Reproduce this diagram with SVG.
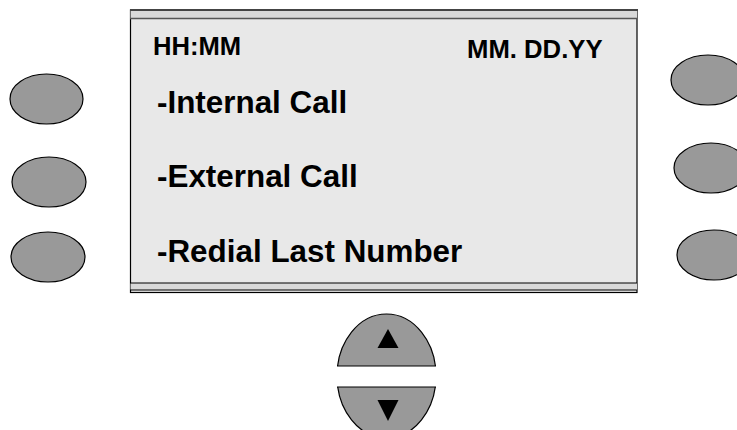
<svg xmlns="http://www.w3.org/2000/svg" width="737" height="430" viewBox="0 0 737 430">
<style>
.btn{fill:#999999;stroke:#000;stroke-width:1.2}
.t{font-family:"Liberation Sans",Arial,sans-serif;font-weight:bold;fill:#000}
.ln{stroke:#000;stroke-width:1.2}
</style>
<rect width="737" height="430" fill="#fff"/>
<g id="screen">
<rect x="130.5" y="10" width="506.5" height="282.5" fill="#e8e8e8" stroke="#000" stroke-width="1.2"/>
<rect x="130.5" y="10" width="506.5" height="8.5" fill="#d9d9d9"/>
<line x1="130" y1="10" x2="638" y2="10" stroke="#444" stroke-width="2.2"/>
<line x1="130" y1="18.5" x2="637" y2="18.5" stroke="#555" stroke-width="1.5"/>
<rect x="130.5" y="283" width="506.5" height="7" fill="#d9d9d9"/>
<line class="ln" x1="130" y1="283" x2="637" y2="283"/>
<line class="ln" x1="130" y1="290" x2="637" y2="290"/>
<line class="ln" x1="130" y1="292.5" x2="637" y2="292.5"/>
<text class="t" x="153" y="54.5" font-size="25.6">HH:MM</text>
<text class="t" x="467" y="58" font-size="25.7">MM. DD.YY</text>
<text class="t" x="157" y="113" font-size="31.4">-Internal Call</text>
<text class="t" x="157" y="187" font-size="31.4">-External Call</text>
<text class="t" x="157" y="262" font-size="31.4">-Redial Last Number</text>
</g>
<g id="left-buttons">
<ellipse class="btn" cx="46.5" cy="99" rx="36.5" ry="25"/>
<ellipse class="btn" cx="49" cy="182" rx="37" ry="25"/>
<ellipse class="btn" cx="48" cy="257" rx="37" ry="25"/>
</g>
<g id="right-buttons">
<ellipse class="btn" cx="708" cy="80" rx="37" ry="25"/>
<ellipse class="btn" cx="711" cy="168" rx="37" ry="25"/>
<ellipse class="btn" cx="714" cy="255" rx="37" ry="25"/>
</g>
<g id="nav">
<clipPath id="up"><rect x="300" y="300" width="180" height="66"/></clipPath>
<clipPath id="dn"><rect x="300" y="387" width="180" height="60"/></clipPath>
<ellipse class="btn" cx="386.5" cy="376" rx="49.5" ry="62" clip-path="url(#up)"/>
<line class="ln" x1="337" y1="366" x2="436" y2="366"/>
<ellipse class="btn" cx="386.5" cy="376" rx="49.5" ry="62" clip-path="url(#dn)"/>
<line class="ln" x1="337" y1="387" x2="436" y2="387"/>
<polygon points="388,329 377.5,348 398.5,348" fill="#000"/>
<polygon points="377.5,400 398.5,400 388,421" fill="#000"/>
</g>
</svg>
